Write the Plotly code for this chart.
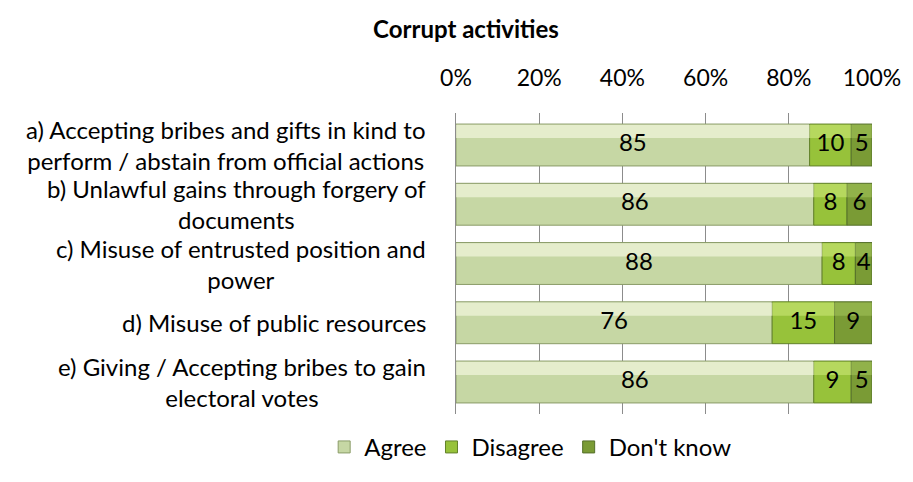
import plotly.graph_objects as go

categories = [
    "a) Accepting bribes and gifts in kind to<br>perform / abstain from official actions",
    "b) Unlawful gains through forgery of<br>documents",
    "c) Misuse of entrusted position and<br>power",
    "d) Misuse of public resources",
    "e) Giving / Accepting bribes to gain<br>electoral votes",
]
keys = ["a", "b", "c", "d", "e"]
agree = [85, 86, 88, 76, 86]
disagree = [10, 8, 8, 15, 9]
dont_know = [5, 6, 4, 9, 5]
series_names = ["Agree", "Disagree", "Don't know"]
tick_vals = [0, 20, 40, 60, 80, 100]

FONT = "Lato, 'Open Sans', sans-serif"
fills = ["#c6d7a4", "#97c23a", "#7a9b35"]
lines = ["#8a9c68", "#62812a", "#55702a"]
highlights = ["rgba(250,252,232,0.6)", "rgba(220,245,140,0.45)", "rgba(190,220,115,0.35)"]

series = [agree, disagree, dont_know]
bases = [
    [0] * len(agree),
    agree,
    [a + d for a, d in zip(agree, disagree)],
]

BW = 0.707
fig = go.Figure()
for name, vals, base, fc, lc in zip(series_names, series, bases, fills, lines):
    fig.add_trace(go.Bar(
        name=name, y=keys, x=vals, base=base, orientation="h",
        width=BW, offset=-BW / 2,
        marker=dict(color=fc, line=dict(color=lc, width=1)),
        hoverinfo="x+name",
    ))
# top highlight strips for a bevel-like look
for vals, base, hc in zip(series, bases, highlights):
    fig.add_trace(go.Bar(
        y=keys, x=vals, base=base, orientation="h",
        width=BW * 0.32, offset=-BW / 2 + 0.01,
        marker=dict(color=hc, line=dict(width=0)),
        showlegend=False, hoverinfo="skip",
    ))
# data labels
for vals, base in zip(series, bases):
    fig.add_trace(go.Scatter(
        y=keys, x=[b + v / 2 for b, v in zip(base, vals)],
        mode="text", text=[str(v) for v in vals],
        textposition="middle center",
        textfont=dict(family=FONT, size=24, color="#000000"),
        showlegend=False, hoverinfo="skip",
    ))

for k, c in zip(keys, categories):
    fig.add_annotation(
        xref="paper", yref="y", x=0, y=k, xshift=-28,
        xanchor="right", yanchor="middle", align="center",
        text=c, showarrow=False,
        font=dict(family=FONT, size=24, color="#000000"),
    )

fig.update_layout(
    width=913, height=482,
    margin=dict(l=456, r=31, t=113, b=39),
    barmode="overlay",
    plot_bgcolor="white", paper_bgcolor="white",
    font=dict(family=FONT, size=24, color="#000000"),
    title=dict(
        text="<b>Corrupt activities</b>", x=466 / 913, xanchor="center",
        xref="container", yref="container", y=1 - 30 / 482, yanchor="middle",
        font=dict(family=FONT, size=24, color="#000000"),
    ),
    xaxis=dict(
        side="top", range=[0, 100], tickvals=tick_vals,
        ticktext=[f"{v}%" for v in tick_vals],
        showgrid=True, gridcolor="#8c8c8c", gridwidth=1,
        zeroline=False, showline=False, ticks="",
        ticklabelstandoff=21,
        tickfont=dict(family=FONT, size=23),
        fixedrange=True,
    ),
    yaxis=dict(
        categoryorder="array", categoryarray=keys, autorange="reversed",
        showticklabels=False, showgrid=False, zeroline=False,
        showline=True, linecolor="#8c8c8c", linewidth=1, ticks="",
        fixedrange=True,
    ),
    legend=dict(
        orientation="h", x=(321 - 456) / 426, xanchor="left",
        y=-0.036, yanchor="top",
        font=dict(family=FONT, size=24), itemwidth=30,
        traceorder="normal",
    ),
    showlegend=True,
)

fig.write_html("out.html")
